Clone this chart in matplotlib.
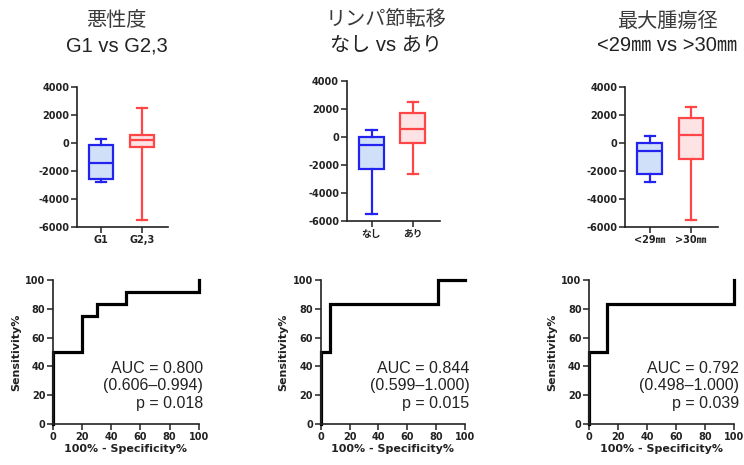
import matplotlib
matplotlib.use("Agg")
import matplotlib.pyplot as plt

plt.rcParams["axes.unicode_minus"] = False

# ---------------- data ----------------
titles = [["悪性度", "G1 vs G2,3"],
          ["リンパ節転移", "なし vs あり"],
          ["最大腫瘍径", "<29㎜ vs >30㎜"]]
group_labels = [["G1", "G2,3"], ["なし", "あり"], ["<29㎜", ">30㎜"]]

# box stats per panel: [low group, high group]
whis_lo = [[-2780, -5520], [-5520, -2640], [-2790, -5520]]
q1_vals = [[-2600, -270], [-2300, -450], [-2240, -1120]]
medians = [[-1400, 200], [-600, 550], [-600, 550]]
q3_vals = [[-180, 590], [0, 1690], [0, 1770]]
whis_hi = [[250, 2520], [500, 2520], [520, 2550]]

box_yticks = [-6000, -4000, -2000, 0, 2000, 4000]

# ROC curves (100% - specificity %, sensitivity %)
roc_x = [[0, 0, 20, 20, 30, 30, 50, 50, 100, 100],
         [0, 0, 6.25, 6.25, 81.25, 81.25, 100],
         [0, 0, 12.5, 12.5, 100, 100]]
roc_y = [[0, 50, 50, 75, 75, 83.3, 83.3, 91.7, 91.7, 100],
         [0, 50, 50, 83.3, 83.3, 100, 100],
         [0, 50, 50, 83.3, 83.3, 100]]
auc_text = ["AUC = 0.800\n(0.606–0.994)\np = 0.018",
            "AUC = 0.844\n(0.599–1.000)\np = 0.015",
            "AUC = 0.792\n(0.498–1.000)\np = 0.039"]
roc_ticks = [0, 20, 40, 60, 80, 100]

# ---------------- style ----------------
edge_cols = ["#2323f0", "#ff4545"]
fill_cols = ["#cfe0f8", "#fde3e3"]
tick_family = ["DejaVu Sans", "Noto Sans CJK JP"]
lat = ["Liberation Sans", "Noto Sans CJK JP"]

fig = plt.figure(figsize=(7.44, 4.65), dpi=100)

box_rects = [[0.1035, 0.512, 0.1223, 0.301],
             [0.466, 0.525, 0.125, 0.301],
             [0.840, 0.512, 0.125, 0.301]]
roc_rects = [[0.0712, 0.088, 0.196, 0.31],
             [0.431, 0.088, 0.194, 0.31],
             [0.792, 0.088, 0.195, 0.31]]
title_x = [0.157, 0.519, 0.897]
title_y1 = [0.955, 0.958, 0.953]
title_y2 = [0.902, 0.902, 0.902]

def style_axes(ax):
    for s in ["top", "right"]:
        ax.spines[s].set_visible(False)
    for s in ["left", "bottom"]:
        ax.spines[s].set_linewidth(1.2)
        ax.spines[s].set_color("#222222")
    ax.tick_params(direction="out", length=4, width=1.1, pad=1.5, colors="#222222")
    for lab in ax.get_xticklabels() + ax.get_yticklabels():
        lab.set_fontfamily(tick_family)
        lab.set_fontweight("bold")
        lab.set_fontsize(7)

for i in range(3):
    # titles
    fig.text(title_x[i], title_y1[i], titles[i][0], ha="center", va="center",
             fontsize=14.5, color="#3a3a3a", family=lat)
    fig.text(title_x[i], title_y2[i], titles[i][1], ha="center", va="center",
             fontsize=14.5, color="#222222", family=lat)

    # box plots
    ax = fig.add_axes(box_rects[i])
    for g in range(2):
        st = dict(whislo=whis_lo[i][g], q1=q1_vals[i][g], med=medians[i][g],
                  q3=q3_vals[i][g], whishi=whis_hi[i][g], fliers=[],
                  label=group_labels[i][g])
        ax.bxp([st], positions=[g], widths=0.6, patch_artist=True,
               showfliers=False, capwidths=0.25,
               boxprops=dict(facecolor=fill_cols[g], edgecolor=edge_cols[g], linewidth=1.6),
               medianprops=dict(color=edge_cols[g], linewidth=1.6),
               whiskerprops=dict(color=edge_cols[g], linewidth=1.6),
               capprops=dict(color=edge_cols[g], linewidth=1.6))
    ax.set_xlim(-0.6, 1.65)
    ax.set_ylim(-6000, 4000)
    ax.set_yticks(box_yticks)
    ax.set_xticks([0, 1])
    ax.set_xticklabels(group_labels[i])
    style_axes(ax)

    # ROC
    ax2 = fig.add_axes(roc_rects[i])
    ax2.plot(roc_x[i], roc_y[i], color="black", linewidth=2.3, clip_on=False,
             solid_joinstyle="miter")
    ax2.set_xlim(0, 100)
    ax2.set_ylim(0, 100)
    ax2.set_xticks(roc_ticks)
    ax2.set_yticks(roc_ticks)
    ax2.set_xlabel("100% - Specificity%", fontsize=8, fontweight="bold",
                   family="DejaVu Sans", labelpad=2, color="#222222")
    ax2.set_ylabel("Sensitivity%", fontsize=8, fontweight="bold",
                   family="DejaVu Sans", labelpad=3, color="#222222")
    style_axes(ax2)
    ax2.text(103, 26.5, auc_text[i], ha="right", va="center", fontsize=11.5,
             family=lat, color="#222222", linespacing=1.2)

fig.savefig("out.png", dpi=100)
